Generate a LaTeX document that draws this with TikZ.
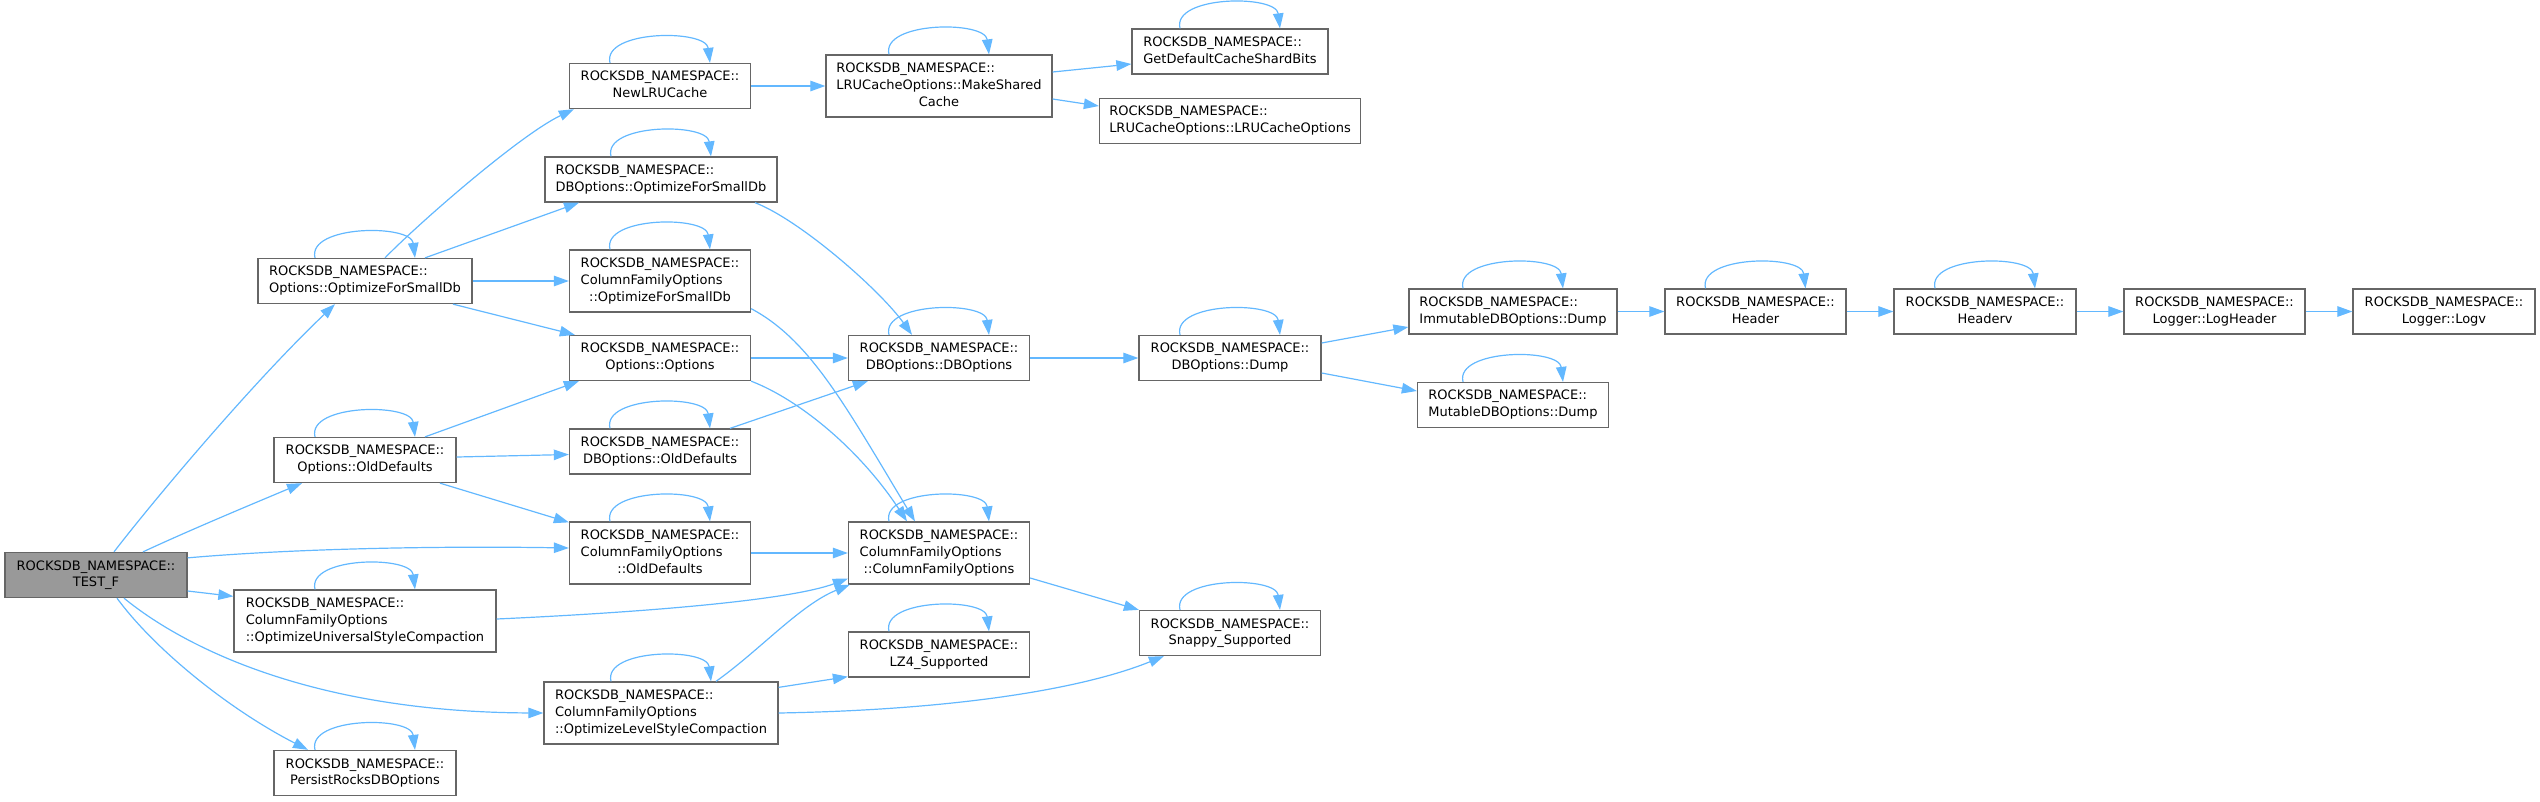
\documentclass[tikz,border=0pt]{standalone}
\usepackage{fontspec}
\setmainfont{DejaVu Sans}
\usetikzlibrary{arrows.meta}
\definecolor{edgeblue}{HTML}{63B8FF}
\definecolor{boxgray}{HTML}{666666}
\definecolor{fillgray}{HTML}{999999}
\newcommand{\ctrline}[1]{\multicolumn{1}{@{}c@{}}{#1}}
\newcommand{\selfloop}[1]{\draw[edge] ([xshift=-50pt]#1.north) .. controls +(-8,-33) and +(-4,-34) .. ([xshift=50pt]#1.north);}
\begin{document}
\begin{tikzpicture}[x=1pt,y=-1pt,
  fn/.style={draw=boxgray, line width=1.3pt, fill=white, rectangle, inner sep=0pt,
    minimum height=45pt, font=\fontsize{13pt}{16.7pt}\selectfont},
  tall/.style={minimum height=62pt},
  edge/.style={draw=edgeblue, line width=1.2pt, -{Triangle[length=15pt,width=10.5pt]}}
]
\useasboundingbox (0,0) rectangle (2540,801);

% column 1
\node[fn, fill=fillgray, minimum width=182pt] (tf) at (96,575) {\begin{tabular}{@{}c@{}}ROCKSDB\_NAMESPACE::\\TEST\_F\end{tabular}};
% column 2
\node[fn, minimum width=214pt] (osdb) at (365,281) {\begin{tabular}{@{}l@{}}ROCKSDB\_NAMESPACE::\\Options::OptimizeForSmallDb\end{tabular}};
\node[fn, minimum width=182pt] (oold) at (365,460) {\begin{tabular}{@{}c@{}}ROCKSDB\_NAMESPACE::\\Options::OldDefaults\end{tabular}};
\node[fn, tall, minimum width=262pt] (ousc) at (365,621) {\begin{tabular}{@{}l@{}}ROCKSDB\_NAMESPACE::\\ColumnFamilyOptions\\::OptimizeUniversalStyleCompaction\end{tabular}};
\node[fn, minimum width=182pt] (prdb) at (365,773) {\begin{tabular}{@{}c@{}}ROCKSDB\_NAMESPACE::\\PersistRocksDBOptions\end{tabular}};
% column 3
\node[fn, minimum width=181pt] (nlru) at (660,86) {\begin{tabular}{@{}c@{}}ROCKSDB\_NAMESPACE::\\NewLRUCache\end{tabular}};
\node[fn, minimum width=232pt] (dbsd) at (661,179.5) {\begin{tabular}{@{}l@{}}ROCKSDB\_NAMESPACE::\\DBOptions::OptimizeForSmallDb\end{tabular}};
\node[fn, tall, minimum width=181pt] (cfsd) at (660,281) {\begin{tabular}{@{}l@{}}ROCKSDB\_NAMESPACE::\\ColumnFamilyOptions\\\ctrline{::OptimizeForSmallDb}\end{tabular}};
\node[fn, minimum width=181pt] (oopt) at (660,358) {\begin{tabular}{@{}c@{}}ROCKSDB\_NAMESPACE::\\Options::Options\end{tabular}};
\node[fn, minimum width=181pt] (dbod) at (660,451.5) {\begin{tabular}{@{}c@{}}ROCKSDB\_NAMESPACE::\\DBOptions::OldDefaults\end{tabular}};
\node[fn, tall, minimum width=181pt] (cfod) at (660,553) {\begin{tabular}{@{}l@{}}ROCKSDB\_NAMESPACE::\\ColumnFamilyOptions\\\ctrline{::OldDefaults}\end{tabular}};
\node[fn, tall, minimum width=234pt] (olsc) at (661,713) {\begin{tabular}{@{}l@{}}ROCKSDB\_NAMESPACE::\\ColumnFamilyOptions\\::OptimizeLevelStyleCompaction\end{tabular}};
% column 4
\node[fn, tall, minimum width=226pt] (msc) at (939,86) {\begin{tabular}{@{}l@{}}ROCKSDB\_NAMESPACE::\\LRUCacheOptions::MakeShared\\\ctrline{Cache}\end{tabular}};
\node[fn, minimum width=181pt] (dbdb) at (939,358) {\begin{tabular}{@{}c@{}}ROCKSDB\_NAMESPACE::\\DBOptions::DBOptions\end{tabular}};
\node[fn, tall, minimum width=181pt] (cfcf) at (939,553) {\begin{tabular}{@{}l@{}}ROCKSDB\_NAMESPACE::\\ColumnFamilyOptions\\\ctrline{::ColumnFamilyOptions}\end{tabular}};
\node[fn, minimum width=181pt] (lz4) at (939,654.5) {\begin{tabular}{@{}c@{}}ROCKSDB\_NAMESPACE::\\LZ4\_Supported\end{tabular}};
% column 5
\node[fn, minimum width=196pt] (gdcs) at (1230,51.5) {\begin{tabular}{@{}l@{}}ROCKSDB\_NAMESPACE::\\GetDefaultCacheShardBits\end{tabular}};
\node[fn, minimum width=261pt] (lruo) at (1230,121) {\begin{tabular}{@{}l@{}}ROCKSDB\_NAMESPACE::\\LRUCacheOptions::LRUCacheOptions\end{tabular}};
\node[fn, minimum width=182pt] (dump) at (1230,358) {\begin{tabular}{@{}c@{}}ROCKSDB\_NAMESPACE::\\DBOptions::Dump\end{tabular}};
\node[fn, minimum width=181pt] (snap) at (1230,633) {\begin{tabular}{@{}c@{}}ROCKSDB\_NAMESPACE::\\Snappy\_Supported\end{tabular}};
% column 6+
\node[fn, minimum width=208pt] (imm) at (1513,311.5) {\begin{tabular}{@{}l@{}}ROCKSDB\_NAMESPACE::\\ImmutableDBOptions::Dump\end{tabular}};
\node[fn, minimum width=191pt] (mut) at (1513,405) {\begin{tabular}{@{}l@{}}ROCKSDB\_NAMESPACE::\\MutableDBOptions::Dump\end{tabular}};
\node[fn, minimum width=181pt] (hdr) at (1755.5,311.5) {\begin{tabular}{@{}c@{}}ROCKSDB\_NAMESPACE::\\Header\end{tabular}};
\node[fn, minimum width=182pt] (hdrv) at (1985,311.5) {\begin{tabular}{@{}c@{}}ROCKSDB\_NAMESPACE::\\Headerv\end{tabular}};
\node[fn, minimum width=181pt] (logh) at (2214.5,311.5) {\begin{tabular}{@{}c@{}}ROCKSDB\_NAMESPACE::\\Logger::LogHeader\end{tabular}};
\node[fn, minimum width=182pt] (logv) at (2444,311.5) {\begin{tabular}{@{}c@{}}ROCKSDB\_NAMESPACE::\\Logger::Logv\end{tabular}};

% self loops
\foreach \n in {osdb,oold,ousc,prdb,nlru,dbsd,cfsd,dbod,cfod,olsc,msc,dbdb,cfcf,lz4,gdcs,dump,snap,imm,mut,hdr,hdrv}{\selfloop{\n}}

% edges from TEST_F
\draw[edge] ([xshift=18pt]tf.north) .. controls (150,505) and (250,385) .. ([xshift=-30pt]osdb.south);
\draw[edge] ([xshift=47pt]tf.north) .. controls (190,530) and (250,505) .. ([xshift=-63pt]oold.south);
\draw[edge] ([yshift=-6pt]tf.north east) .. controls (300,548) and (450,546) .. ([yshift=5pt]cfod.west);
\draw[edge] ([yshift=-16pt]tf.east) -- ([yshift=-7pt]ousc.north west);
\draw[edge] ([xshift=28pt]tf.south) .. controls (175,640) and (300,712) .. (olsc.west);
\draw[edge] ([xshift=21pt]tf.south) .. controls (155,650) and (230,710) .. ([xshift=-57pt]prdb.north);
% Options::OptimizeForSmallDb
\draw[edge] ([xshift=20pt]osdb.north) .. controls (420,222) and (520,135) .. ([xshift=5pt]nlru.south west);
\draw[edge] ([xshift=60pt]osdb.north) -- ([xshift=-82pt]dbsd.south);
\draw[edge] (osdb.east) -- (cfsd.west);
\draw[edge] ([xshift=88pt]osdb.south) -- ([xshift=6pt]oopt.north west);
% Options::OldDefaults
\draw[edge] ([xshift=60pt]oold.north) -- ([xshift=10pt]oopt.south west);
\draw[edge] ([yshift=3pt]oold.east) -- ([yshift=-3pt]dbod.west);
\draw[edge] ([xshift=75pt]oold.south) -- ([yshift=-1pt]cfod.north west);
% Universal
\draw[edge] ([yshift=2pt]ousc.east) .. controls (650,612) and (790,600) .. ([yshift=6pt]cfcf.south west);
% column 3 outgoing
\draw[edge] ([xshift=94pt]dbsd.south) .. controls (800,220) and (880,290) .. ([xshift=-27pt]dbdb.north);
\draw[edge] ([yshift=4pt]cfsd.south east) .. controls (810,340) and (845,405) .. ([xshift=-24pt]cfcf.north);
\draw[edge] (oopt.south east) .. controls (800,400) and (860,450) .. ([xshift=-32pt]cfcf.north);
\draw[edge] (oopt.east) -- (dbdb.west);
\draw[edge] ([xshift=70pt]dbod.north) -- ([xshift=20pt]dbdb.south west);
\draw[edge] (cfod.east) -- (cfcf.west);
\draw[edge] ([xshift=55pt]olsc.north) .. controls (760,650) and (800,605) .. ([xshift=2pt]cfcf.south west);
\draw[edge] ([yshift=-6pt]olsc.north east) -- ([yshift=1pt]lz4.south west);
\draw[edge] (olsc.east) .. controls (950,710) and (1080,690) .. ([xshift=25pt]snap.south west);
\draw[edge] (nlru.east) -- (msc.west);
% column 4 outgoing
\draw[edge] ([yshift=-25pt]cfcf.east) -- (snap.north west);
\draw[edge] ([yshift=14pt]msc.east) -- ([yshift=-12.5pt]gdcs.west);
\draw[edge] ([yshift=-13pt]msc.east) -- ([yshift=15pt]lruo.west);
\draw[edge] (dbdb.east) -- (dump.west);
% Dump chain
\draw[edge] ([yshift=15pt]dump.east) -- ([yshift=-15.5pt]imm.west);
\draw[edge] ([yshift=-15pt]dump.east) -- ([yshift=14pt]mut.west);
\draw[edge] (imm.east) -- (hdr.west);
\draw[edge] (hdr.east) -- (hdrv.west);
\draw[edge] (hdrv.east) -- (logh.west);
\draw[edge] (logh.east) -- (logv.west);
\end{tikzpicture}
\end{document}
